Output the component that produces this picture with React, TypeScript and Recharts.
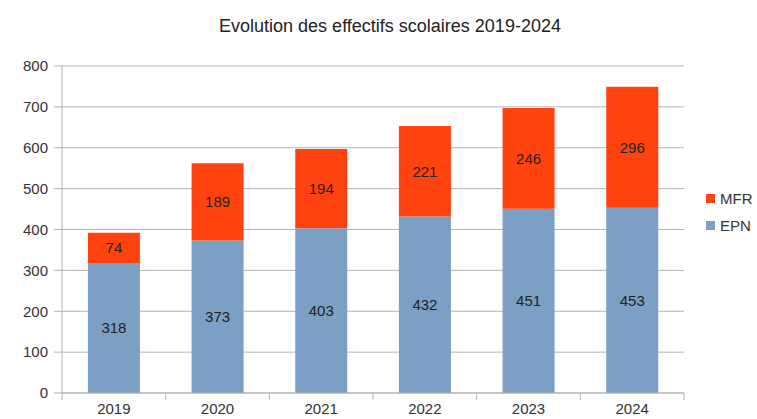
import { BarChart, Bar, XAxis, YAxis, CartesianGrid, Legend, LabelList } from 'recharts'

const years = ['2019', '2020', '2021', '2022', '2023', '2024']
const epn = [318, 373, 403, 432, 451, 453]
const mfr = [74, 189, 194, 221, 246, 296]
const yTicks = [0, 100, 200, 300, 400, 500, 600, 700, 800]

const data = years.map((year, i) => ({ year, EPN: epn[i], MFR: mfr[i] }))

const FONT = '"Liberation Sans", Arial, sans-serif'
const GRID = '#b3b3b3'
const PLOT_LEFT = 62
const PLOT_RIGHT = 684
const LEGEND_W = 60
const STEP = (PLOT_RIGHT - PLOT_LEFT) / years.length

function YearTick(props: any) {
  const { x, y, payload, index } = props
  const last = index === years.length - 1
  return (
    <g>
      <line x1={x - STEP / 2} x2={x - STEP / 2} y1={y} y2={y + 7} stroke={GRID} />
      {last && <line x1={x + STEP / 2} x2={x + STEP / 2} y1={y} y2={y + 7} stroke={GRID} />}
      <text x={x} y={y + 10} dy="0.71em" textAnchor="middle" fill="#333" fontSize={15} fontFamily={FONT}>
        {payload.value}
      </text>
    </g>
  )
}

function LegendBox(props: any) {
  const items = [...(props.payload || [])].reverse()
  return (
    <div style={{ fontFamily: FONT, fontSize: 15, color: '#333' }}>
      {items.map((it: any) => (
        <div key={it.value} style={{ display: 'flex', alignItems: 'center', height: 27 }}>
          <span style={{ width: 9, height: 9, background: it.color, marginRight: 5, display: 'inline-block' }} />
          {it.value}
        </div>
      ))}
    </div>
  )
}

export default function App() {
  return (
    <div style={{ position: 'absolute', left: 0, top: 0, width: 757, height: 419, background: '#fff' }}>
      <div
        style={{
          position: 'absolute',
          top: 16,
          left: 0,
          width: 780,
          textAlign: 'center',
          fontFamily: FONT,
          fontSize: 18,
          color: '#222',
        }}
      >
        Evolution des effectifs scolaires 2019-2024
      </div>
      <BarChart
        width={757}
        height={419}
        data={data}
        margin={{ top: 66, right: 757 - PLOT_RIGHT - LEGEND_W, bottom: 6, left: 0 }}
        barCategoryGap="25%"
      >
        <CartesianGrid vertical={false} stroke={GRID} />
        <XAxis
          dataKey="year"
          axisLine={{ stroke: GRID }}
          tickLine={false}
          tickSize={0}
          tickMargin={0}
          height={20}
          tick={<YearTick />}
          interval={0}
        />
        <YAxis
          domain={[0, 800]}
          ticks={yTicks}
          width={PLOT_LEFT}
          axisLine={{ stroke: GRID }}
          tickLine={{ stroke: GRID }}
          tickSize={8}
          tickMargin={6}
          tick={{ fill: '#333', fontSize: 15, fontFamily: FONT }}
        />
        <YAxis yAxisId="right" orientation="right" width={0} tick={false} tickLine={false} axisLine={{ stroke: GRID }} />
        <Legend
          layout="vertical"
          verticalAlign="top"
          align="right"
          content={<LegendBox />}
          wrapperStyle={{ left: 706, top: 185, width: LEGEND_W }}
        />
        <Bar dataKey="EPN" stackId="a" fill="#7ca0c5" isAnimationActive={false}>
          <LabelList dataKey="EPN" position="center" fill="#222" fontSize={15} fontFamily={FONT} />
        </Bar>
        <Bar dataKey="MFR" stackId="a" fill="#ff420e" isAnimationActive={false}>
          <LabelList dataKey="MFR" position="center" fill="#222" fontSize={15} fontFamily={FONT} />
        </Bar>
      </BarChart>
    </div>
  )
}
